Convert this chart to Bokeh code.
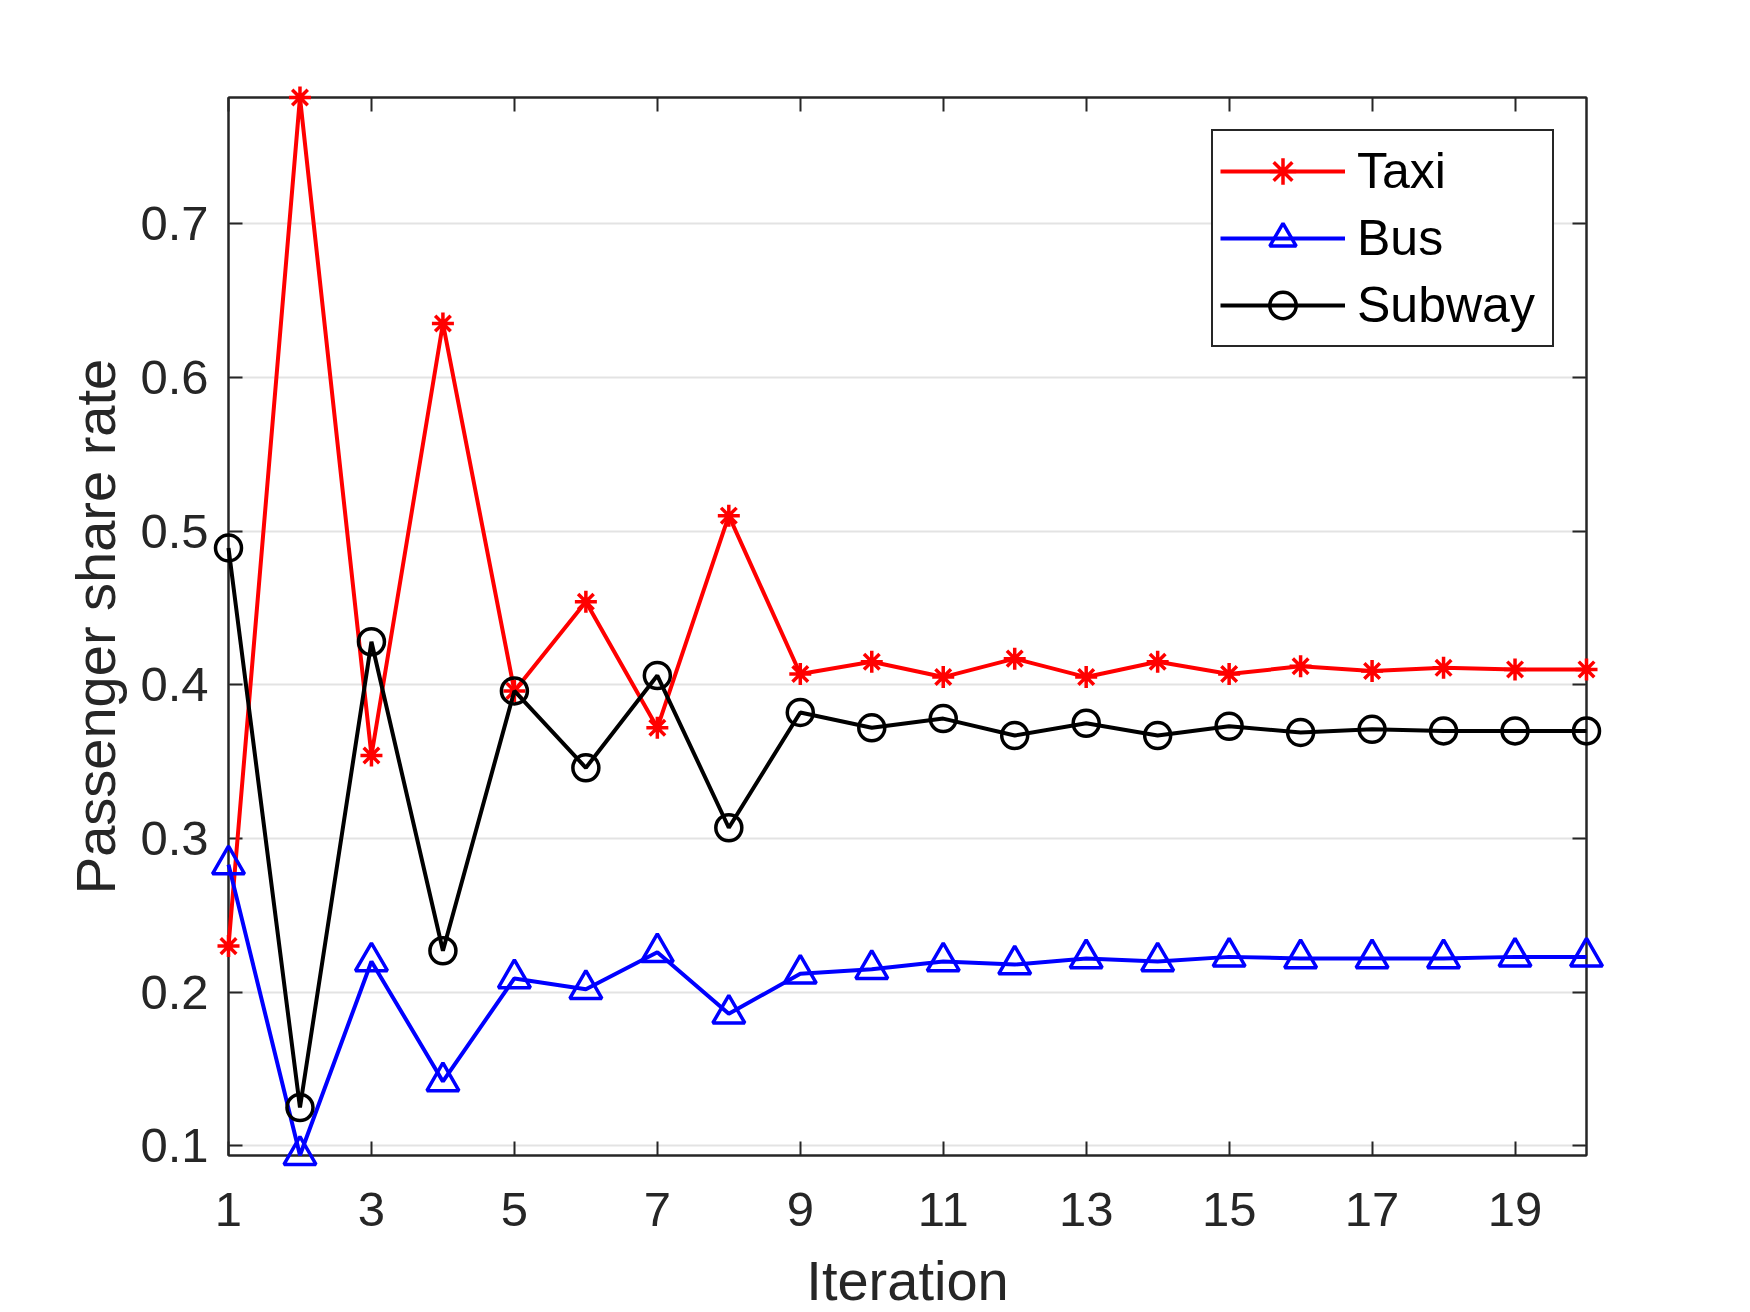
from bokeh.plotting import figure
from bokeh.models import LinearAxis, FixedTicker, Range1d, Legend, LegendItem, CustomJSTickFormatter
from bokeh.embed import file_html
from bokeh.resources import INLINE

iterations = list(range(1, 21))
taxi = [0.230, 0.782, 0.354, 0.635, 0.396, 0.454, 0.372, 0.510, 0.407, 0.415,
        0.405, 0.417, 0.405, 0.415, 0.407, 0.412, 0.409, 0.411, 0.410, 0.410]
bus = [0.283, 0.094, 0.220, 0.142, 0.209, 0.202, 0.226, 0.186, 0.212, 0.215,
       0.220, 0.218, 0.222, 0.220, 0.223, 0.222, 0.222, 0.222, 0.223, 0.223]
subway = [0.489, 0.125, 0.428, 0.227, 0.396, 0.346, 0.406, 0.307, 0.382, 0.372,
          0.378, 0.367, 0.375, 0.367, 0.373, 0.369, 0.371, 0.370, 0.370, 0.370]
series_names = ["Taxi", "Bus", "Subway"]
x_ticks = [1, 3, 5, 7, 9, 11, 13, 15, 17, 19]
y_ticks = [0.1, 0.2, 0.3, 0.4, 0.5, 0.6, 0.7]

FONT = "Liberation Sans"
TXT = "#262626"

p = figure(frame_width=1358, frame_height=1058,
           x_range=Range1d(1, 20), y_range=Range1d(0.0938, 0.782),
           output_backend="svg", toolbar_location=None,
           min_border_left=228, min_border_top=97, min_border_right=140,
           min_border_bottom=140)
p.background_fill_color = "white"
p.border_fill_color = "white"
p.outline_line_color = TXT
p.outline_line_width = 2

for ax in (p.xaxis[0], p.yaxis[0]):
    ax.axis_line_color = TXT
    ax.axis_line_width = 2
    ax.major_tick_line_color = TXT
    ax.major_tick_line_width = 2
    ax.major_tick_in = 14
    ax.major_tick_out = 0
    ax.minor_tick_line_color = None
    ax.major_label_text_font = FONT
    ax.major_label_text_font_size = "49px"
    ax.major_label_text_color = TXT
    ax.axis_label_text_font = FONT
    ax.axis_label_text_font_size = "56px"
    ax.axis_label_text_font_style = "normal"
    ax.axis_label_text_color = TXT

p.xaxis[0].ticker = FixedTicker(ticks=x_ticks)
p.yaxis[0].ticker = FixedTicker(ticks=y_ticks)
p.xaxis[0].axis_label = "Iteration"
p.yaxis[0].axis_label = "Passenger share rate"
p.xaxis[0].major_label_standoff = 37
p.yaxis[0].major_label_standoff = 20
p.xaxis[0].axis_label_standoff = 20
p.yaxis[0].axis_label_standoff = 10

blank = CustomJSTickFormatter(code="return ''")
top = LinearAxis(ticker=FixedTicker(ticks=x_ticks), formatter=blank)
right = LinearAxis(ticker=FixedTicker(ticks=y_ticks), formatter=blank)
for ax in (top, right):
    ax.axis_line_color = TXT
    ax.axis_line_width = 2
    ax.major_tick_line_color = TXT
    ax.major_tick_line_width = 2
    ax.major_tick_in = 14
    ax.major_tick_out = 0
    ax.minor_tick_line_color = None
    ax.major_label_standoff = 0
p.add_layout(top, "above")
p.add_layout(right, "right")

p.xgrid.grid_line_color = None
p.ygrid.ticker = FixedTicker(ticks=y_ticks)
p.ygrid.grid_line_color = "#e3e3e3"
p.ygrid.grid_line_width = 2

items = []
specs = [(taxi, "#ff0000", "asterisk", 22),
         (bus, "#0000ff", "triangle", 32),
         (subway, "#000000", "circle", 26)]
for name, (vals, col, mk, sz) in zip(series_names, specs):
    ln = p.line(iterations, vals, line_color=col, line_width=4, level="overlay")
    sc = p.scatter(iterations, vals, marker=mk, size=sz, line_color=col,
                   fill_color=None, line_width=3.5, level="overlay")
    items.append(LegendItem(label=name, renderers=[ln, sc]))

legend = Legend(items=items, location="top_right", margin=32,
                glyph_width=125, glyph_height=66, label_standoff=12,
                padding=7, spacing=1, label_width=188, label_height=50,
                label_text_font=FONT, label_text_font_size="50px",
                label_text_color="#000000",
                border_line_color=TXT, border_line_width=2, border_line_alpha=1.0,
                background_fill_color="white", background_fill_alpha=1.0)
p.add_layout(legend)

open("out.html", "w").write(file_html(p, INLINE))
